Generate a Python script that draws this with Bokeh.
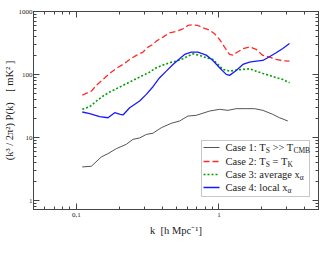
from bokeh.plotting import figure
from bokeh.models import (FixedTicker, LogAxis, CustomJSTickFormatter, Label,
                          BoxAnnotation, Arrow)
from bokeh.embed import file_html
from bokeh.resources import INLINE

# ---- data ----
case1_k = [0.110, 0.1274, 0.1497, 0.1667, 0.1907, 0.2241, 0.2495, 0.2779, 0.3095,
           0.3447, 0.3942, 0.4634, 0.5301, 0.6063, 0.6936, 0.8602, 1.011, 1.157,
           1.323, 1.554, 1.778, 2.034, 2.390, 2.662, 3.045]
case1_v = [3.41, 3.50, 4.92, 5.55, 6.66, 7.80, 9.36, 9.83, 11.2, 11.7, 14.3, 16.8,
           18.3, 21.9, 22.5, 26.3, 28.0, 27.0, 28.7, 28.7, 28.7, 27.0, 23.3, 20.6, 18.3]

case2_k = [0.110, 0.1274, 0.1381, 0.1538, 0.1713, 0.1907, 0.2124, 0.2365, 0.2634,
           0.2934, 0.3179, 0.3447, 0.3637, 0.4050, 0.4510, 0.5023, 0.5594, 0.6063,
           0.6572, 0.7122, 0.7724, 0.8602, 0.9324, 1.011, 1.096, 1.188, 1.254,
           1.323, 1.473, 1.641, 1.827, 2.034, 2.265, 2.523, 2.809, 3.129]
case2_v = [47.2, 54.6, 67.2, 83.6, 104, 125, 144.5, 173.5, 201, 227, 272, 300, 339,
           392, 459, 482, 531, 600, 615, 600, 551, 506, 443, 360, 272, 208, 203,
           221, 256, 275, 250, 201, 189, 173.5, 165, 163]

case3_k = [0.110, 0.1240, 0.1381, 0.1538, 0.1713, 0.1907, 0.2124, 0.2365, 0.2634,
           0.2934, 0.3266, 0.3637, 0.4050, 0.4510, 0.5023, 0.5594, 0.6063, 0.6572,
           0.7319, 0.8149, 0.9077, 0.9840, 1.067, 1.188, 1.323, 1.473, 1.641,
           1.827, 2.034, 2.265, 2.523, 2.809, 3.129]
case3_v = [28.0, 30.8, 37.9, 45.5, 52.7, 59.5, 67.2, 75.9, 85.7, 96.8, 109, 128, 141,
           154, 163, 178, 196, 213, 201, 184.5, 173.5, 144.5, 120.5, 113, 117.5,
           120.5, 123, 113, 104, 96.8, 88.9, 83.6, 74.0]

case4_k = [0.110, 0.1240, 0.1457, 0.1667, 0.1856, 0.2034, 0.2124, 0.2365, 0.2779,
           0.3095, 0.3447, 0.3838, 0.4274, 0.4760, 0.5301, 0.5743, 0.6397, 0.7122,
           0.8149, 0.9077, 1.011, 1.126, 1.188, 1.323, 1.473, 1.641, 1.827, 2.034,
           2.265, 2.523, 2.809, 3.129]
case4_v = [25.4, 23.9, 21.4, 20.6, 24.8, 23.3, 22.8, 29.7, 37.9, 48.4, 64.0, 88.9,
           113, 144.5, 178, 208, 227, 227, 203, 167, 128, 100.4, 96.8, 116, 144.5,
           157, 163, 167, 191, 221, 259, 311]

x_major = [0.1, 1]
x_minor = [0.05, 0.06, 0.07, 0.08, 0.09, 0.2, 0.3, 0.4, 0.5, 0.6, 0.7, 0.8, 0.9,
           2, 3, 4, 5]
y_major = [1, 10, 100, 1000]
y_minor = [0.8, 0.9, 2, 3, 4, 5, 6, 7, 8, 9, 20, 30, 40, 50, 60, 70, 80, 90,
           200, 300, 400, 500, 600, 700, 800, 900]

legend_rows = [
    [("Case 1: T", False), ("S", True), ("\u00a0>> T", False), ("CMB", True)],
    [("Case 2: T", False), ("S", True), ("\u00a0= T", False), ("K", True)],
    [("Case 3: average x", False), ("\u03b1", True)],
    [("Case 4: local x", False), ("\u03b1", True)],
]

FONT = "Liberation Serif"
AX = "#444444"

p = figure(frame_width=285, frame_height=198, x_axis_type="log", y_axis_type="log",
           x_range=(0.05, 5), y_range=(0.72, 1000), output_backend="svg",
           toolbar_location=None, min_border_left=29, min_border_top=11,
           min_border_bottom=34, min_border_right=1)
p.grid.visible = False
p.outline_line_color = AX
p.background_fill_color = "white"

fmt = CustomJSTickFormatter(code="return String(tick).replace('.', ',');")

def style_axis(ax, ticks, minor, tick_len=3):
    ax.ticker = FixedTicker(ticks=ticks, minor_ticks=minor)
    ax.formatter = fmt
    ax.axis_line_color = AX
    ax.major_tick_line_color = AX
    ax.minor_tick_line_color = AX
    ax.major_tick_in = 6
    ax.major_tick_out = 0
    ax.minor_tick_in = tick_len
    ax.minor_tick_out = 0
    ax.major_label_text_font = FONT
    ax.axis_label_text_font = FONT
    ax.axis_label_text_font_style = "normal"
    ax.axis_label_text_font_size = "10.5px"
    ax.axis_label_text_color = "#222222"
    ax.major_label_text_color = "#222222"
    ax.major_label_text_font_size = "7px"
    ax.major_label_standoff = 3
    ax.axis_label_standoff = 5

style_axis(p.xaxis[0], x_major, x_minor)
style_axis(p.yaxis[0], y_major, y_minor)
p.xaxis[0].axis_label = "k\u00a0\u00a0[h Mpc\u207b\u00b9]"
p.yaxis[0].axis_label = "(k\u00b3 / 2\u03c0\u00b2) P(k)\u00a0\u00a0\u00a0\u00a0[ mK\u00b2 ]"
p.yaxis[0].major_label_standoff = 1
p.yaxis[0].axis_label_standoff = 1

# mirrored ticks on top and right (no labels: only minor-tick sets)
for loc, major, minor in (("above", x_major, x_minor), ("right", y_major, y_minor)):
    a1 = LogAxis()
    style_axis(a1, [], minor, tick_len=3)
    p.add_layout(a1, loc)
    a2 = LogAxis()
    style_axis(a2, [], major, tick_len=6)
    p.add_layout(a2, loc)

styles = [
    dict(color="#555555", width=1.0, dash="solid"),
    dict(color="#ff2a2a", width=1.3, dash="6 3"),
    dict(color="#00a000", width=1.6, dash="2 2"),
    dict(color="#1a1aff", width=1.3, dash="solid"),
]
series = [(case1_k, case1_v), (case2_k, case2_v), (case3_k, case3_v), (case4_k, case4_v)]
for (k, v), st in zip(series, styles):
    p.line(k, v, line_color=st["color"], line_width=st["width"], line_dash=st["dash"])

# ---- legend (screen units relative to the frame, y up) ----
p.add_layout(BoxAnnotation(left=168, right=276, bottom=13, top=69,
                           left_units="screen", right_units="screen",
                           bottom_units="screen", top_units="screen",
                           fill_color="white", fill_alpha=1.0,
                           line_color=AX, line_width=1))

WIDTHS = {"C": .667, "a": .444, "s": .389, "e": .444, " ": .25, "\u00a0": .25,
          "1": .5, "2": .5, "3": .5, "4": .5, ":": .278, "T": .611, "S": .556,
          ">": .564, "=": .564, "M": .889, "B": .667, "K": .722, "v": .5, "r": .333,
          "g": .5, "x": .5, "l": .278, "o": .5, "c": .444, "\u03b1": .55}
row_y = [62, 48, 35, 22]
for (row, y, st) in zip(legend_rows, row_y, styles):
    p.add_layout(Arrow(end=None, x_start=170, y_start=y, x_end=186, y_end=y,
                       start_units="screen", end_units="screen",
                       line_color=st["color"], line_width=st["width"],
                       line_dash=st["dash"]))
    x = 192
    for txt, sub in row:
        size = 7.5 if sub else 10.5
        p.add_layout(Label(x=x, y=y - (3 if sub else 0), x_units="screen",
                           y_units="screen", text=txt, text_font=FONT,
                           text_font_size=f"{size}px", text_baseline="middle",
                           text_color="#222222"))
        x += sum(WIDTHS.get(ch, .5) for ch in txt) * size

open("out.html", "w").write(file_html(p, INLINE))
